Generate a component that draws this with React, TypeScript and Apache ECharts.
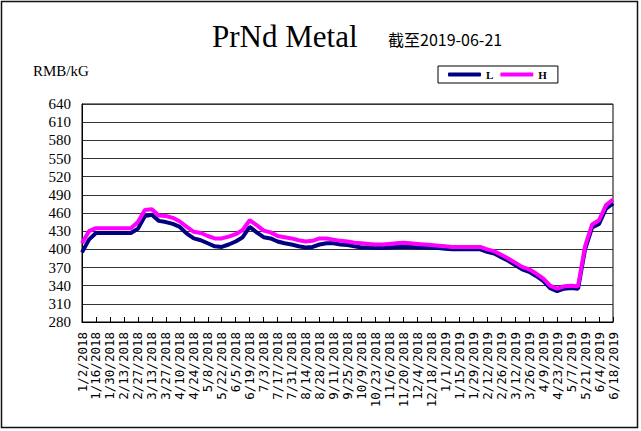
import React, { useEffect, useRef } from "react";
import * as echarts from "echarts";

const dates = [
  "1/2/2018", "1/9/2018", "1/16/2018", "1/23/2018", "1/30/2018", "2/6/2018", "2/13/2018", "2/20/2018",
  "2/27/2018", "3/6/2018", "3/13/2018", "3/20/2018", "3/27/2018", "4/3/2018", "4/10/2018", "4/17/2018",
  "4/24/2018", "5/1/2018", "5/8/2018", "5/15/2018", "5/22/2018", "5/29/2018", "6/5/2018", "6/12/2018",
  "6/19/2018", "6/26/2018", "7/3/2018", "7/10/2018", "7/17/2018", "7/24/2018", "7/31/2018", "8/7/2018",
  "8/14/2018", "8/21/2018", "8/28/2018", "9/4/2018", "9/11/2018", "9/18/2018", "9/25/2018", "10/2/2018",
  "10/9/2018", "10/16/2018", "10/23/2018", "10/30/2018", "11/6/2018", "11/13/2018", "11/20/2018", "11/27/2018",
  "12/4/2018", "12/11/2018", "12/18/2018", "12/25/2018",
  "1/1/2019", "1/8/2019", "1/15/2019", "1/22/2019", "1/29/2019", "2/5/2019", "2/12/2019", "2/19/2019",
  "2/26/2019", "3/5/2019", "3/12/2019", "3/19/2019", "3/26/2019", "4/2/2019", "4/9/2019", "4/16/2019",
  "4/23/2019", "4/30/2019", "5/7/2019", "5/14/2019", "5/21/2019", "5/28/2019", "6/4/2019", "6/11/2019",
  "6/18/2019",
];

const lowPrices = [
  395, 416, 427, 427, 427, 427, 427, 427, 434, 455, 457, 447, 445, 442, 437, 426,
  418, 415, 410, 405, 404, 408, 413, 420, 437, 428, 420, 418, 413, 410, 408, 405,
  403, 404, 408, 410, 410, 408, 407, 405, 403, 403, 402, 402, 403, 404, 404, 404,
  403, 403, 402, 402, 401, 400, 400, 400, 400, 400, 396, 393, 387, 381, 374, 367,
  363, 356, 348, 336, 331, 335, 336, 335, 400, 436, 442, 467, 476,
];

const highPrices = [
  410, 430, 435, 435, 435, 435, 435, 435, 445, 465, 466, 456, 455, 452, 446, 437,
  429, 427, 422, 418, 418, 421, 425, 432, 448, 440, 431, 428, 422, 420, 418, 415,
  413, 414, 418, 418, 416, 414, 413, 411, 410, 409, 408, 408, 409, 410, 411, 410,
  409, 408, 407, 406, 405, 404, 404, 404, 404, 404, 400, 397, 391, 385, 378, 371,
  367, 360, 352, 340, 335, 339, 340, 339, 405, 441, 448, 473, 482,
];

const yTicks = { min: 280, max: 640, step: 30 };

export default function App() {
  const ref = useRef<HTMLDivElement>(null);
  useEffect(() => {
    document.body.style.margin = "0";
    const chart = echarts.init(ref.current!, null, { renderer: "svg" });
    chart.setOption({
      animation: false,
      backgroundColor: "#ffffff",
      graphic: [
        {
          type: "rect",
          silent: true,
          shape: { x: 1.5, y: 1.5, width: 636, height: 426 },
          style: { fill: "none", stroke: "#111", lineWidth: 1.5 },
        },
        {
          type: "text",
          x: 212,
          y: 36,
          style: {
            text: "PrNd Metal",
            fontFamily: "Liberation Serif",
            fontSize: 31,
            fill: "#000",
            verticalAlign: "middle",
          },
        },
        {
          type: "text",
          x: 388,
          y: 39,
          style: {
            text: "截至2019-06-21",
            fontFamily: "Noto Sans CJK SC",
            fontSize: 16,
            fill: "#000",
            verticalAlign: "middle",
          },
        },
        {
          type: "text",
          x: 33,
          y: 71,
          style: {
            text: "RMB/kG",
            fontFamily: "Liberation Serif",
            fontSize: 15,
            fill: "#000",
            verticalAlign: "middle",
          },
        },
      ],
      legend: {
        data: ["L", "H"],
        left: 438,
        top: 66,
        orient: "horizontal",
        backgroundColor: "#fff",
        borderColor: "#000",
        borderWidth: 1,
        padding: [3, 11, 3, 10],
        itemGap: 7,
        itemWidth: 33,
        itemHeight: 4,
        icon: "roundRect",
        textStyle: {
          fontFamily: "Liberation Serif",
          fontSize: 11,
          fontWeight: "bold",
          color: "#000",
        },
      },
      grid: {
        left: 82,
        right: 28,
        top: 104,
        bottom: 109,
        show: true,
        borderColor: "#000",
        borderWidth: 1,
        backgroundColor: "transparent",
      },
      xAxis: {
        type: "category",
        data: dates,
        boundaryGap: false,
        axisLine: { lineStyle: { color: "#000", width: 1 } },
        axisTick: { inside: true, length: 5, interval: 1, lineStyle: { color: "#000" } },
        axisLabel: {
          rotate: 90,
          interval: 1,
          fontFamily: "DejaVu Sans Mono",
          fontSize: 12.5,
          color: "#000",
          margin: 10,
        },
        splitLine: { show: false },
      },
      yAxis: {
        type: "value",
        min: yTicks.min,
        max: yTicks.max,
        interval: yTicks.step,
        axisLine: { show: true, lineStyle: { color: "#000" } },
        axisTick: { show: false },
        axisLabel: {
          fontFamily: "Liberation Serif",
          fontSize: 15,
          color: "#000",
          margin: 11,
        },
        splitLine: { lineStyle: { color: "#333", width: 1 } },
      },
      series: [
        {
          name: "L",
          type: "line",
          data: lowPrices,
          symbol: "none",
          showSymbol: false,
          itemStyle: { color: "#000080" },
          lineStyle: { color: "#000080", width: 4 },
        },
        {
          name: "H",
          type: "line",
          data: highPrices,
          symbol: "none",
          showSymbol: false,
          itemStyle: { color: "#FF00FF" },
          lineStyle: { color: "#FF00FF", width: 4 },
        },
      ],
    });
    return () => chart.dispose();
  }, []);
  return <div ref={ref} style={{ width: 641, height: 431 }} />;
}
